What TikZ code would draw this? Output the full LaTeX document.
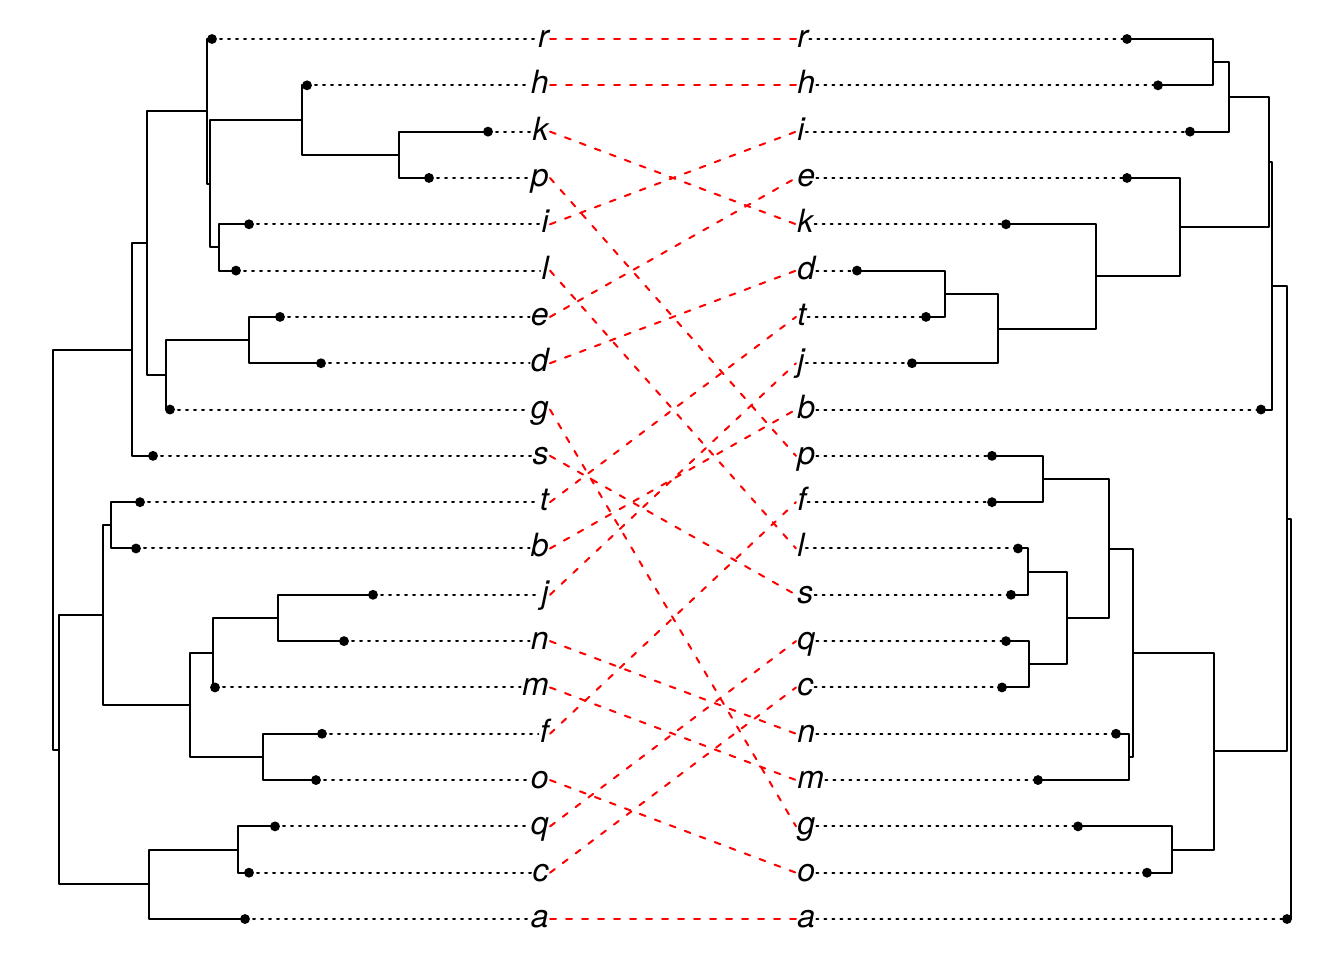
\documentclass[tikz,border=0pt]{standalone}
\usepackage{fontspec}
\setmainfont{TeX Gyre Heros}
\begin{document}
\begin{tikzpicture}[x=0.375pt,y=-0.375pt,
  branch/.style={line width=0.75pt,line cap=round,line join=round},
  leafline/.style={line width=0.75pt,line cap=round,dash pattern=on 0.75pt off 2.25pt},
  conn/.style={red,line width=0.75pt,line cap=round,dash pattern=on 2.25pt off 3.75pt},
  lab/.style={font=\fontsize{12}{14}\selectfont\itshape,inner sep=0.3pt}]
\useasboundingbox (0,0) rectangle (1344,960);
% left leaves
\foreach \n/\dx [count=\i from 0] in {r/212,h/307,k/488,p/429,i/249,l/236,e/280,d/321,g/170,s/153,t/140,b/136,j/373,n/344,m/215,f/322,o/316,q/275,c/249,a/245}{
  \coordinate (L\n) at (\dx,39+46.316*\i);
  \node[lab,anchor=base east] (l\n) at (550,47.5+46.316*\i) {\n};
  \draw[leafline] (L\n) -- (l\n.west |- L\n);
}
% right leaves
\foreach \n/\dx [count=\i from 0] in {r/1127,h/1158,i/1190,e/1127,k/1006,d/857,t/926,j/912,b/1261,p/992,f/992,l/1018,s/1011,q/1006,c/1002,n/1116,m/1038,g/1078,o/1147,a/1287}{
  \coordinate (R\n) at (\dx,39+46.316*\i);
  \node[lab,anchor=base west] (r\n) at (796,47.5+46.316*\i) {\n};
  \draw[leafline] (r\n.east |- R\n) -- (R\n);
}
% connectors
\foreach \n in {r,h,k,p,i,l,e,d,g,s,t,b,j,n,m,f,o,q,c,a}{
  \draw[conn] (l\n.east |- L\n) -- (r\n.west |- R\n);
}
% left tree internal nodes
\coordinate (kp) at (399,154.75);
\coordinate (hkp) at (302,120.0);
\coordinate (il) at (219,247.4);
\coordinate (hkpil) at (210,183.7);
\coordinate (rX) at (207,111.4);
\coordinate (ed) at (249,340.0);
\coordinate (edg) at (166,374.8);
\coordinate (lQ) at (147,243.1);
\coordinate (lR) at (132,349.5);
\coordinate (tb) at (111,525.3);
\coordinate (jn) at (278,617.9);
\coordinate (jnm) at (213,652.7);
\coordinate (fo) at (263,756.9);
\coordinate (lU) at (190,704.8);
\coordinate (lT) at (103,615.0);
\coordinate (lqc) at (238,849.5);
\coordinate (lW) at (149,884.3);
\coordinate (lS) at (59,749.7);
\coordinate (lroot) at (53,549.6);
\foreach \p/\c in {kp/Lk,kp/Lp,hkp/Lh,hkp/kp,il/Li,il/Ll,hkpil/hkp,hkpil/il,rX/Lr,rX/hkpil,
  ed/Le,ed/Ld,edg/ed,edg/Lg,lQ/rX,lQ/edg,lR/lQ,lR/Ls,tb/Lt,tb/Lb,jn/Lj,jn/Ln,jnm/jn,jnm/Lm,
  fo/Lf,fo/Lo,lU/jnm,lU/fo,lT/tb,lT/lU,lqc/Lq,lqc/Lc,lW/lqc,lW/La,lS/lT,lS/lW,lroot/lR,lroot/lS}{
  \draw[branch] (\p) |- (\c);
}
% right tree internal nodes
\coordinate (rh) at (1213,62.2);
\coordinate (rhi) at (1229,96.9);
\coordinate (dt) at (945,293.8);
\coordinate (dtj) at (998,328.5);
\coordinate (kdtj) at (1096,276.4);
\coordinate (rY) at (1180,227.2);
\coordinate (rX1) at (1269,162.0);
\coordinate (rX2) at (1272,285.8);
\coordinate (pf) at (1043,479.0);
\coordinate (ls) at (1028,571.6);
\coordinate (rqc) at (1029,664.3);
\coordinate (rZ9) at (1067,618.0);
\coordinate (rZ6) at (1109,548.5);
\coordinate (nm) at (1129,756.9);
\coordinate (rZ4) at (1133,652.7);
\coordinate (go) at (1172,849.5);
\coordinate (rZ3) at (1214,751.1);
\coordinate (rZ2) at (1287,518.5);
\coordinate (rroot) at (1291,718.7);
\foreach \p/\c in {rh/Rr,rh/Rh,rhi/rh,rhi/Ri,dt/Rd,dt/Rt,dtj/dt,dtj/Rj,kdtj/Rk,kdtj/dtj,rY/Re,rY/kdtj,
  rX1/rhi,rX1/rY,rX2/rX1,rX2/Rb,pf/Rp,pf/Rf,ls/Rl,ls/Rs,rqc/Rq,rqc/Rc,rZ9/ls,rZ9/rqc,rZ6/pf,rZ6/rZ9,
  nm/Rn,nm/Rm,rZ4/rZ6,rZ4/nm,go/Rg,go/Ro,rZ3/rZ4,rZ3/go,rZ2/rX2,rZ2/rZ3,rroot/rZ2,rroot/Ra}{
  \draw[branch] (\p) |- (\c);
}
% leaf dots
\foreach \n in {r,h,k,p,i,l,e,d,g,s,t,b,j,n,m,f,o,q,c,a}{
  \fill (L\n) circle (1.85pt);
  \fill (R\n) circle (1.85pt);
}
\end{tikzpicture}
\end{document}
